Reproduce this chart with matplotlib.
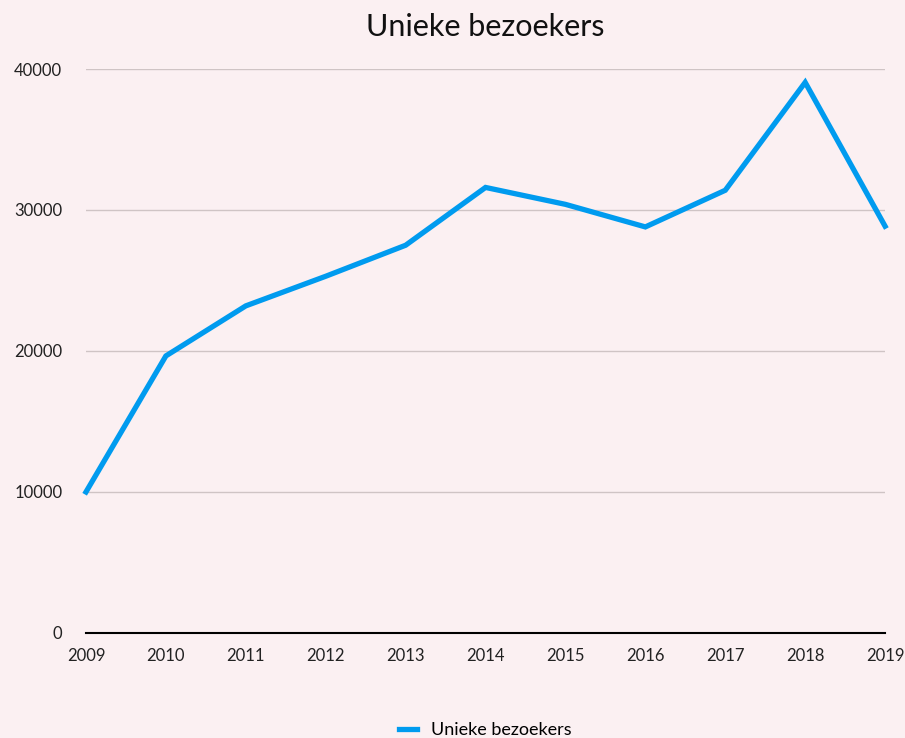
import matplotlib.pyplot as plt

years = [2009, 2010, 2011, 2012, 2013, 2014, 2015, 2016, 2017, 2018, 2019]
visitors = [10000, 19650, 23200, 25300, 27500, 31600, 30400, 28800, 31400, 39050, 28850]
yticks = [0, 10000, 20000, 30000, 40000]

bg = '#FBF0F2'
plt.rcParams['font.family'] = ['Lato', 'DejaVu Sans']

fig = plt.figure(figsize=(9.05, 7.38), dpi=100, facecolor=bg)
ax = fig.add_axes([0.095, 0.1423, 0.883, 0.7642], facecolor=bg)

ax.plot(years, visitors, color='#009BEF', linewidth=3.8, label='Unieke bezoekers',
        solid_joinstyle='miter', clip_on=False)

ax.set_xlim(2009, 2019)
ax.set_ylim(0, 40000)
ax.set_xticks(years)
ax.set_yticks(yticks)
ax.set_xticklabels([str(y) for y in years], fontsize=12, color='#222222')
ax.set_yticklabels([str(v) for v in yticks], fontsize=12, color='#222222')
ax.tick_params(axis='both', length=0)
ax.tick_params(axis='y', pad=17)
ax.tick_params(axis='x', pad=11)

ax.grid(axis='y', color='#CFC4C5', linewidth=1)
ax.set_axisbelow(True)
for s in ['top', 'right', 'left']:
    ax.spines[s].set_visible(False)
ax.spines['bottom'].set_color('black')
ax.spines['bottom'].set_linewidth(1.5)
ax.spines['bottom'].set_zorder(3)

# title and legend are centred over the plot area, not the figure
fig.text(0.5365, 0.982, 'Unieke bezoekers', fontsize=22, color='#111111',
         ha='center', va='top')

fig.legend(loc='lower center', bbox_to_anchor=(0.5365, -0.022), frameon=False,
           fontsize=13, handlelength=1.0, handletextpad=0.8)

fig.savefig('out.png', dpi=100, facecolor=bg)
